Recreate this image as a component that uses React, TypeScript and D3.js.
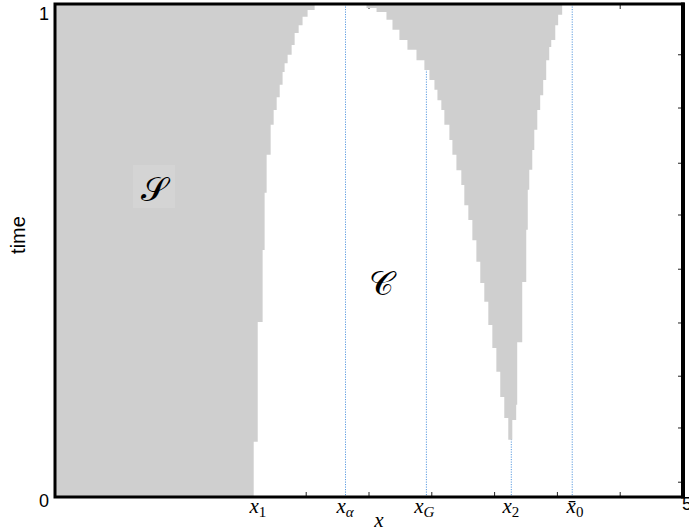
import React from "react";
import * as d3 from "d3";

// ---- data (x in model units 0..5, t = time 0..1) ----
// left region S boundary: step data, x holds from t up to next t
const leftT = [0, 0.112, 0.355, 0.501, 0.617, 0.694, 0.755, 0.785, 0.811, 0.836, 0.862, 0.88, 0.897, 0.917, 0.941, 0.957, 0.974, 0.988, 0.998, 1.0];
const leftX = [1.582, 1.614, 1.653, 1.669, 1.685, 1.717, 1.741, 1.765, 1.789, 1.812, 1.828, 1.852, 1.884, 1.908, 1.94, 1.971, 2.011, 2.067, 2.122, 2.146];

// middle V region: left edge (from tip upward)
const vLeftT = [0.116, 0.16, 0.203, 0.254, 0.302, 0.349, 0.396, 0.434, 0.477, 0.521, 0.562, 0.592, 0.633, 0.663, 0.694, 0.724, 0.755, 0.785, 0.805, 0.826, 0.846, 0.866, 0.886, 0.907, 0.927, 0.948, 0.968, 0.984, 0.992, 1.0];
const vLeftX = [3.609, 3.577, 3.545, 3.514, 3.482, 3.45, 3.418, 3.386, 3.355, 3.323, 3.291, 3.259, 3.235, 3.196, 3.164, 3.14, 3.1, 3.076, 3.045, 3.021, 2.981, 2.941, 2.878, 2.806, 2.742, 2.687, 2.639, 2.56, 2.48, 2.46];
// middle V region: right edge (from tip upward)
const vRightT = [0.116, 0.156, 0.187, 0.314, 0.436, 0.542, 0.623, 0.664, 0.704, 0.745, 0.785, 0.815, 0.846, 0.886, 0.913, 0.927, 0.957, 0.978, 0.998, 1.0];
const vRightX = [3.641, 3.672, 3.68, 3.72, 3.752, 3.764, 3.776, 3.8, 3.816, 3.84, 3.863, 3.887, 3.911, 3.935, 3.951, 3.983, 4.006, 4.038, 4.07, 4.08];

// dotted reference lines
const refLines = [2.313, 2.957, 3.633, 4.118];

// x-axis math labels
const labelMain = ["x", "x", "x", "x", "x\u0304"];
const labelSub = ["1", "\u03b1", "G", "2", "0"];
const labelSubItalic = [false, true, true, false, false];
const labelX = [1.615, 2.31, 2.94, 3.63, 4.14];

const xTicks = [0.5, 1, 1.5, 2, 2.5, 3, 3.5, 4, 4.5];
const rightTicks = [0.03, 0.14, 0.245, 0.353, 0.462, 0.572, 0.677, 0.789, 0.897];

export default function App() {
  const W = 689, H = 531;
  const x = d3.scaleLinear().domain([0, 5]).range([55, 683]);
  const y = d3.scaleLinear().domain([0, 1]).range([497, 4]);

  const gray = "#cfcfcf";

  const leftPts = leftT.map((t, i) => [leftX[i], t] as [number, number]);
  const up = d3.line<[number, number]>().x(d => x(d[0])).y(d => y(d[1])).curve(d3.curveStepBefore);
  const down = d3.line<[number, number]>().x(d => x(d[0])).y(d => y(d[1])).curve(d3.curveStepAfter);

  const leftPath = (up(leftPts) || "") + `L${x(0)},${y(1)}L${x(0)},${y(0)}Z`;

  const vl = vLeftT.map((t, i) => [vLeftX[i], t] as [number, number]);
  const vr = vRightT.map((t, i) => [vRightX[i], t] as [number, number]).reverse();
  const vPath = (up(vl) || "") + (down(vr) || "").replace(/^M/, "L") + "Z";

  const serif = "'Liberation Serif', 'DejaVu Serif', serif";
  const sans = "'Liberation Sans', Arial, sans-serif";
  const script = "'DejaVu Serif', 'DejaVu Sans', 'Noto Sans', serif";

  return (
    <svg width={W} height={H} style={{ position: "absolute", left: 0, top: 0, background: "#fff" }}>
      <rect x={0} y={0} width={W} height={H} fill="#fff" />
      {/* dotted reference lines */}
      {refLines.map((v, i) => (
        <line key={i} x1={x(v)} x2={x(v)} y1={y(1)} y2={y(0)} stroke="#5a9be0" strokeWidth={1} strokeDasharray="1.2,1.3" />
      ))}
      {/* ticks */}
      {xTicks.map((v, i) => (
        <g key={i}>
          <line x1={x(v)} x2={x(v)} y1={y(0)} y2={y(0) - 5} stroke="#222" strokeWidth={1} />
          <line x1={x(v)} x2={x(v)} y1={y(1)} y2={y(1) + 5} stroke="#222" strokeWidth={1} />
        </g>
      ))}
      {rightTicks.map((v, i) => (
        <line key={i} x1={x(5)} x2={x(5) - 5} y1={y(v)} y2={y(v)} stroke="#222" strokeWidth={1} />
      ))}
      {/* gray regions */}
      <path d={leftPath} fill={gray} stroke="none" />
      <path d={vPath} fill={gray} stroke="none" />
      {/* region labels */}
      <rect x={133} y={165} width={42} height={43} fill="#d4d4d4" />
      <text x={154} y={201} textAnchor="middle" fontFamily={script} fontSize={34} fill="#000">{"\u{1D4AE}"}</text>
      <text x={381} y={295} textAnchor="middle" fontFamily={script} fontSize={34} fill="#000">{"\u{1D49E}"}</text>
      {/* frame */}
      <rect x={x(0)} y={y(1)} width={x(5) - x(0)} height={y(0) - y(1)} fill="none" stroke="#000" strokeWidth={3} />
      <line x1={x(5)} x2={x(5)} y1={y(1) - 1.5} y2={y(0) + 1.5} stroke="#000" strokeWidth={4} />
      {/* axis labels */}
      <text x={49} y={20} textAnchor="end" fontFamily={sans} fontSize={18} fill="#000">1</text>
      <text x={49} y={507} textAnchor="end" fontFamily={sans} fontSize={18} fill="#000">0</text>
      <text x={682} y={510} textAnchor="start" fontFamily={sans} fontSize={18} fill="#000">5</text>
      <text transform="translate(25,235) rotate(-90)" textAnchor="middle" fontFamily={sans} fontSize={20} fill="#000">time</text>
      {labelX.map((v, i) => (
        <text key={i} x={x(v)} y={513} textAnchor="middle" fontFamily={serif} fontStyle="italic" fontSize={21} fill="#000">
          {labelMain[i]}
          <tspan fontSize={15} dy={4} fontStyle={labelSubItalic[i] ? "italic" : "normal"}>{labelSub[i]}</tspan>
        </text>
      ))}
      <text x={379} y={527} textAnchor="middle" fontFamily={serif} fontStyle="italic" fontSize={21} fill="#000">x</text>
    </svg>
  );
}
